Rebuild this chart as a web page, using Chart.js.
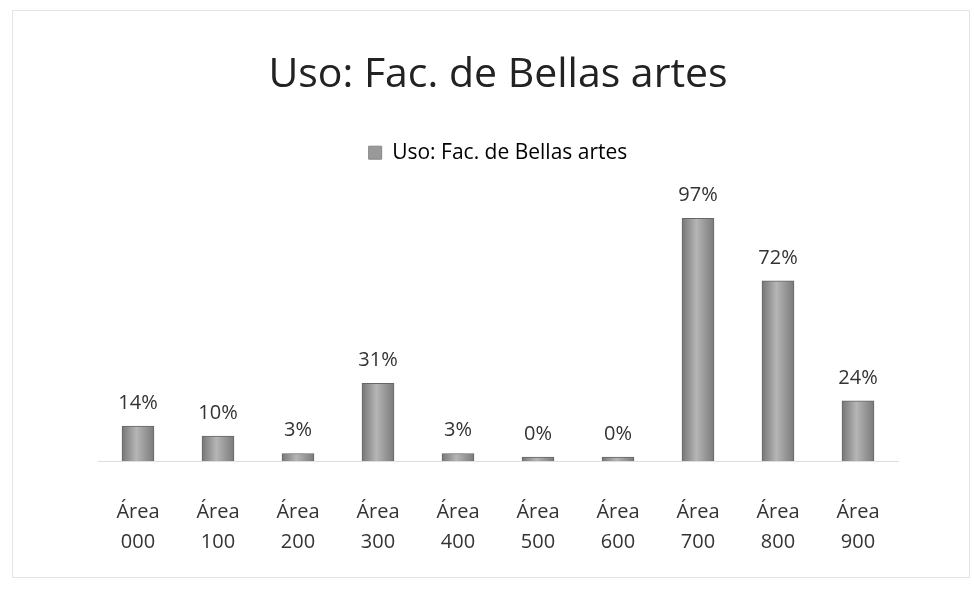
<!DOCTYPE html>
<html>
<head>
<meta charset="utf-8">
<script src="https://cdn.jsdelivr.net/npm/chart.js@4.4.0/dist/chart.umd.min.js"></script>
<style>
  body { margin: 0; background: #fff; }
  #wrap { position: relative; width: 974px; height: 589px; }
  #frame { position: absolute; left: 12px; top: 10px; width: 958px; height: 568px; border: 1px solid #e4e4e4; box-sizing: border-box; }
  canvas { position: absolute; left: 0; top: 0; }
</style>
</head>
<body>
<div id="wrap">
  <div id="frame"></div>
  <canvas id="chart" width="974" height="589"></canvas>
</div>
<script>
const categories = [['Área', '000'], ['Área', '100'], ['Área', '200'], ['Área', '300'], ['Área', '400'],
                    ['Área', '500'], ['Área', '600'], ['Área', '700'], ['Área', '800'], ['Área', '900']];
const usoValues = [14, 10, 3, 31, 3, 0, 0, 97, 72, 24];
const seriesName = 'Uso: Fac. de Bellas artes';

// data labels above each bar + cylinder-ish shading
const barExtras = {
    id: 'barExtras',
    beforeDatasetsDraw(chart) {
        const ctx = chart.ctx;
        chart.getDatasetMeta(0).data.forEach(bar => {
            const g = ctx.createLinearGradient(bar.x - bar.width / 2, 0, bar.x + bar.width / 2, 0);
            g.addColorStop(0, '#777');
            g.addColorStop(0.45, '#b5b5b5');
            g.addColorStop(1, '#7b7b7b');
            bar.options = Object.assign({}, bar.options, { backgroundColor: g });
        });
    },
    afterDatasetsDraw(chart) {
        const ctx = chart.ctx;
        const meta = chart.getDatasetMeta(0);
        ctx.save();
        ctx.font = '20px "Open Sans", sans-serif';
        ctx.fillStyle = '#333';
        ctx.textAlign = 'center';
        ctx.textBaseline = 'bottom';
        meta.data.forEach((bar, i) => {
            ctx.fillText(usoValues[i] + '%', bar.x, bar.y - 13);
        });
        ctx.restore();
    }
};

new Chart(document.getElementById('chart'), {
    type: 'bar',
    data: {
        labels: categories,
        datasets: [{
            label: seriesName,
            data: usoValues,
            backgroundColor: '#9a9a9a',
            borderColor: '#666',
            borderWidth: 1,
            barThickness: 32,
            minBarLength: 4
        }]
    },
    options: {
        responsive: false,
        animation: false,
        layout: { padding: { left: 98, right: 76, top: 20, bottom: 4 } },
        plugins: {
            title: {
                display: true,
                text: seriesName,
                color: '#222',
                font: { size: 41, family: '"Open Sans", sans-serif', weight: 'normal' },
                padding: { top: 31, bottom: 32 }
            },
            legend: {
                display: true,
                labels: {
                    color: '#9a9a9a',
                    font: { size: 21, family: '"Open Sans", sans-serif' },
                    boxWidth: 13,
                    boxHeight: 13,
                    generateLabels: () => [{ text: seriesName, fillStyle: '#999', strokeStyle: '#888', lineWidth: 1 }]
                }
            },
            tooltip: { enabled: false }
        },
        scales: {
            x: {
                grid: { display: false },
                border: { display: true, color: '#ddd' },
                ticks: {
                    color: '#333',
                    font: { size: 20, family: '"Open Sans", sans-serif', lineHeight: 1.5 },
                    padding: 28
                }
            },
            y: {
                display: false,
                min: 0,
                max: 115
            }
        }
    },
    plugins: [barExtras]
});
</script>
</body>
</html>
